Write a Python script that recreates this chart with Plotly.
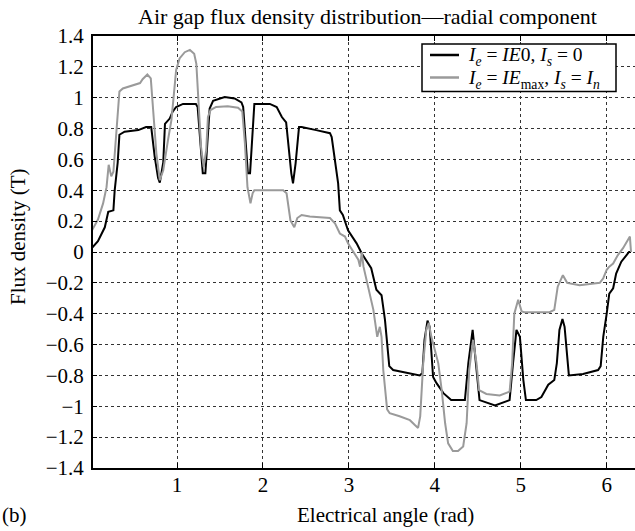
import plotly.graph_objects as go

# Series 1: Ie = IE0, Is = 0 (black)
angle_black = [
    0, 0.08, 0.16, 0.2, 0.26, 0.275, 0.31, 0.33, 0.39, 0.55,
    0.64, 0.70, 0.74, 0.78, 0.80, 0.84, 0.86, 0.915, 0.95, 0.99,
    1.07, 1.22, 1.24, 1.28, 1.30, 1.33, 1.36, 1.38, 1.42, 1.555,
    1.67, 1.75, 1.77, 1.81, 1.825, 1.85, 1.88, 1.90, 1.965, 2.08,
    2.16, 2.22, 2.27, 2.29, 2.33, 2.35, 2.38, 2.42, 2.45, 2.62,
    2.78, 2.80, 2.84, 2.875, 2.895, 2.93, 2.99, 3.09, 3.15, 3.26,
    3.32, 3.38, 3.42, 3.445, 3.47, 3.515, 3.71, 3.825, 3.855, 3.88,
    3.915, 3.94, 3.98, 4.02, 4.10, 4.19, 4.35, 4.39, 4.44, 4.485,
    4.52, 4.70, 4.87, 4.91, 4.95, 4.99, 5.03, 5.06, 5.18, 5.24,
    5.32, 5.39, 5.42, 5.45, 5.485, 5.51, 5.54, 5.56, 5.725, 5.90,
    5.93, 5.96, 6.0, 6.03, 6.075, 6.11, 6.17, 6.26, 6.283,
]
flux_black = [
    0.02, 0.07, 0.16, 0.26, 0.27, 0.40, 0.58, 0.76, 0.78, 0.79,
    0.81, 0.81, 0.62, 0.48, 0.45, 0.58, 0.83, 0.865, 0.91, 0.94,
    0.96, 0.96, 0.94, 0.62, 0.51, 0.51, 0.79, 0.93, 0.98, 1.005,
    0.995, 0.97, 0.94, 0.62, 0.51, 0.51, 0.79, 0.96, 0.96, 0.96,
    0.94, 0.875, 0.84, 0.725, 0.51, 0.445, 0.575, 0.81, 0.81, 0.79,
    0.77, 0.745, 0.575, 0.445, 0.27, 0.24, 0.14, 0.056, -0.01, -0.105,
    -0.245, -0.28, -0.44, -0.57, -0.74, -0.765, -0.785, -0.80, -0.785, -0.57,
    -0.445, -0.485, -0.81, -0.85, -0.915, -0.96, -0.96, -0.72, -0.505, -0.765,
    -0.96, -0.995, -0.96, -0.72, -0.505, -0.55, -0.83, -0.96, -0.96, -0.94,
    -0.86, -0.83, -0.72, -0.505, -0.435, -0.485, -0.68, -0.80, -0.79, -0.765,
    -0.74, -0.55, -0.40, -0.27, -0.235, -0.14, -0.063, 0.0, 0.0,
]

# Series 2: Ie = IEmax, Is = In (gray)
angle_gray = [
    0, 0.08, 0.14, 0.18, 0.205, 0.235, 0.26, 0.28, 0.31, 0.33,
    0.37, 0.47, 0.57, 0.60, 0.655, 0.695, 0.72, 0.76, 0.80, 0.84,
    0.895, 0.935, 0.965, 0.99, 1.03, 1.09, 1.15, 1.20, 1.225, 1.25,
    1.28, 1.31, 1.34, 1.36, 1.39, 1.455, 1.59, 1.71, 1.76, 1.79,
    1.82, 1.855, 1.88, 1.90, 2.235, 2.275, 2.32, 2.365, 2.40, 2.45,
    2.545, 2.78, 2.84, 2.895, 2.955, 2.99, 3.05, 3.11, 3.13, 3.15,
    3.17, 3.225, 3.285, 3.33, 3.36, 3.38, 3.40, 3.445, 3.475, 3.59,
    3.71, 3.765, 3.805, 3.83, 3.865, 3.90, 3.93, 3.96, 4.0, 4.04,
    4.08, 4.12, 4.155, 4.21, 4.27, 4.33, 4.37, 4.40, 4.445, 4.485,
    4.515, 4.60, 4.755, 4.87, 4.90, 4.925, 4.97, 5.01, 5.045, 5.335,
    5.39, 5.43, 5.49, 5.54, 5.685, 5.92, 5.96, 6.0, 6.03, 6.075,
    6.13, 6.19, 6.27, 6.283,
]
flux_gray = [
    0.13, 0.21, 0.315, 0.42, 0.565, 0.49, 0.52, 0.68, 0.875, 1.04,
    1.06, 1.08, 1.095, 1.12, 1.15, 1.125, 0.94, 0.64, 0.465, 0.53,
    0.725, 0.855, 1.03, 1.18, 1.255, 1.295, 1.31, 1.285, 1.22, 0.96,
    0.68, 0.55, 0.66, 0.875, 0.92, 0.94, 0.945, 0.935, 0.91, 0.705,
    0.42, 0.315, 0.38, 0.40, 0.40, 0.38, 0.205, 0.16, 0.22, 0.24,
    0.23, 0.22, 0.185, 0.12, 0.10, 0.056, 0.0, -0.05, -0.095, 0.0,
    -0.095, -0.225, -0.375, -0.55, -0.485, -0.55, -0.765, -1.02, -1.045, -1.065,
    -1.09, -1.12, -1.14, -1.065, -0.72, -0.505, -0.46, -0.55, -0.635, -0.72,
    -0.895, -1.11, -1.24, -1.29, -1.29, -1.26, -1.11, -0.765, -0.57, -0.72,
    -0.895, -0.92, -0.93, -0.905, -0.72, -0.40, -0.31, -0.385, -0.39, -0.39,
    -0.375, -0.225, -0.15, -0.20, -0.215, -0.20, -0.17, -0.115, -0.095, -0.075,
    -0.02, 0.025, 0.10, 0.0,
]

x_ticks = [1, 2, 3, 4, 5, 6]
y_ticks = [1.4, 1.2, 1, 0.8, 0.6, 0.4, 0.2, 0, -0.2, -0.4, -0.6, -0.8, -1, -1.2, -1.4]
y_tick_labels = ["1.4", "1.2", "1", "0.8", "0.6", "0.4", "0.2", "0",
                 "\u22120.2", "\u22120.4", "\u22120.6", "\u22120.8", "\u22121", "\u22121.2", "\u22121.4"]

label_black = "<i>I<sub>e</sub></i> = <i>IE</i>0, <i>I<sub>s</sub></i> = 0"
label_gray = "<i>I<sub>e</sub></i> = <i>IE</i><sub>max</sub>, <i>I<sub>s</sub></i> = <i>I<sub>n</sub></i>"
color_black = "#000000"
color_gray = "#9a9a9a"

FONT = "Liberation Serif"

fig = go.Figure()
fig.add_trace(go.Scatter(x=angle_black, y=flux_black, mode="lines", name=label_black,
                         showlegend=False, line=dict(color=color_black, width=2)))
fig.add_trace(go.Scatter(x=angle_gray, y=flux_gray, mode="lines", name=label_gray,
                         showlegend=False, line=dict(color=color_gray, width=2)))

W, H = 635, 531
L, R, T, B = 93, 0, 36, 63
PW, PH = W - L - R, H - T - B


def px(xp):
    return (xp - L) / PW


def py(yp):
    return (T + PH - yp) / PH


# legend box, samples and labels (pixel layout of the reference legend)
shapes = [
    dict(type="rect", xref="paper", yref="paper", x0=px(422), x1=px(616), y0=py(91.5), y1=py(44),
         line=dict(color="black", width=1.5), fillcolor="white", layer="above"),
    dict(type="line", xref="paper", yref="paper", x0=px(430), x1=px(459), y0=py(55), y1=py(55),
         line=dict(color=color_black, width=2.5), layer="above"),
    dict(type="line", xref="paper", yref="paper", x0=px(430), x1=px(459), y0=py(77.5), y1=py(77.5),
         line=dict(color=color_gray, width=2.5), layer="above"),
]

fig.update_layout(
    width=W, height=H,
    margin=dict(l=L, r=R, t=T, b=B, pad=0, autoexpand=False),
    paper_bgcolor="white", plot_bgcolor="white",
    font=dict(family=FONT, size=21, color="black"),
    showlegend=False,
    shapes=shapes,
    xaxis=dict(range=[(93 - 91.06) / 85.94, (635 - 91.06) / 85.94],
               tickvals=x_ticks, ticktext=[str(v) for v in x_ticks],
               showgrid=True, gridcolor="#333333", griddash="dot", gridwidth=1,
               zeroline=False, showline=True, linecolor="black", linewidth=2,
               mirror="ticks", ticks="inside", ticklen=5, tickcolor="black",
               ticklabelstandoff=-3, automargin=False,
               tickfont=dict(family=FONT, size=21, color="black")),
    yaxis=dict(range=[-1.4, 1.4],
               tickvals=y_ticks, ticktext=y_tick_labels,
               showgrid=True, gridcolor="#333333", griddash="dot", gridwidth=1,
               zeroline=False, showline=True, linecolor="black", linewidth=2,
               mirror=False, ticks="inside", ticklen=4, tickcolor="black",
               ticklabelstandoff=3, automargin=False,
               tickfont=dict(family=FONT, size=21, color="black")),
    annotations=[
        dict(text="Air gap flux density distribution\u2014radial component",
             xref="paper", yref="paper", x=px(367), y=py(16),
             xanchor="center", yanchor="middle", showarrow=False,
             font=dict(family=FONT, size=22, color="black")),
        dict(text="Electrical angle (rad)",
             xref="paper", yref="paper", x=px(385), y=py(515),
             xanchor="center", yanchor="middle", showarrow=False,
             font=dict(family=FONT, size=21, color="black")),
        dict(text="(b)",
             xref="paper", yref="paper", x=px(0), y=py(515),
             xanchor="left", yanchor="middle", showarrow=False,
             font=dict(family=FONT, size=21, color="black")),
        dict(text="Flux density (T)", textangle=-90,
             xref="paper", yref="paper", x=px(18), y=py(237),
             xanchor="center", yanchor="middle", showarrow=False,
             font=dict(family=FONT, size=21, color="black")),
        dict(text=label_black, height=23, valign="middle",
             xref="paper", yref="paper", x=px(466), y=py(56.5),
             xanchor="left", yanchor="middle", showarrow=False,
             font=dict(family=FONT, size=19.5, color="black")),
        dict(text=label_gray, height=23, valign="middle",
             xref="paper", yref="paper", x=px(466), y=py(79.5),
             xanchor="left", yanchor="middle", showarrow=False,
             font=dict(family=FONT, size=19.5, color="black")),
    ],
)

fig.write_html("out.html", config={"displayModeBar": False},
               post_script="document.body.style.margin='0';document.body.style.padding='0';")
